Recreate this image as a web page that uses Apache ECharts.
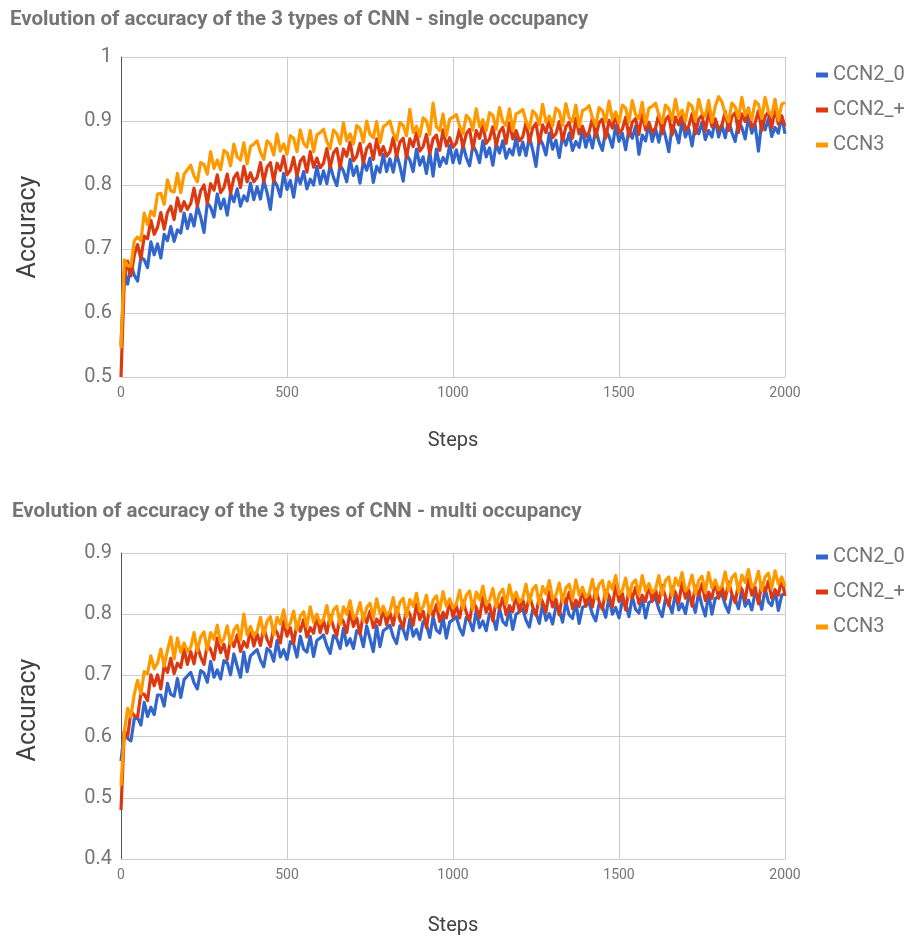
<!DOCTYPE html>
<html><head><meta charset="utf-8">
<script src="https://cdn.jsdelivr.net/npm/echarts@6/dist/echarts.min.js"></script>
<style>html,body{margin:0;padding:0;background:#fff}#c{width:911px;height:940px}</style>
</head><body><div id="c"></div>
<script>
const steps=[0,10,20,30,40,50,60,70,80,90,100,110,120,130,140,150,160,170,180,190,200,210,220,230,240,250,260,270,280,290,300,310,320,330,340,350,360,370,380,390,400,410,420,430,440,450,460,470,480,490,500,510,520,530,540,550,560,570,580,590,600,610,620,630,640,650,660,670,680,690,700,710,720,730,740,750,760,770,780,790,800,810,820,830,840,850,860,870,880,890,900,910,920,930,940,950,960,970,980,990,1000,1010,1020,1030,1040,1050,1060,1070,1080,1090,1100,1110,1120,1130,1140,1150,1160,1170,1180,1190,1200,1210,1220,1230,1240,1250,1260,1270,1280,1290,1300,1310,1320,1330,1340,1350,1360,1370,1380,1390,1400,1410,1420,1430,1440,1450,1460,1470,1480,1490,1500,1510,1520,1530,1540,1550,1560,1570,1580,1590,1600,1610,1620,1630,1640,1650,1660,1670,1680,1690,1700,1710,1720,1730,1740,1750,1760,1770,1780,1790,1800,1810,1820,1830,1840,1850,1860,1870,1880,1890,1900,1910,1920,1930,1940,1950,1960,1970,1980,1990,2000];
const xTicks=[0,500,1000,1500,2000];
const seriesNames=['CCN2_0','CCN2_+','CCN3'];
const titleSingle='Evolution of accuracy of the 3 types of CNN - single occupancy';
const titleMulti='Evolution of accuracy of the 3 types of CNN - multi occupancy';

// single occupancy
const singleCCN2_0=[.550,
.664,.645,.676,.659,.650,.687,.683,.671,.711,.691,
.708,.686,.723,.713,.735,.712,.730,.725,.756,.732,
.754,.736,.767,.750,.726,.772,.765,.750,.786,.763,
.778,.753,.787,.774,.794,.767,.783,.775,.803,.777,
.797,.778,.807,.788,.762,.808,.799,.782,.818,.793,
.807,.781,.816,.802,.821,.794,.809,.800,.829,.802,
.822,.802,.831,.812,.799,.831,.822,.805,.840,.815,
.829,.803,.837,.823,.842,.804,.829,.820,.848,.821,
.841,.820,.849,.830,.806,.848,.839,.821,.856,.831,
.844,.818,.852,.814,.856,.829,.843,.834,.862,.835,
.855,.834,.863,.843,.830,.862,.852,.835,.869,.844,
.858,.831,.865,.850,.869,.842,.856,.847,.874,.847,
.867,.846,.875,.855,.829,.874,.864,.847,.881,.856,
.870,.843,.877,.862,.881,.854,.868,.859,.886,.859,
.879,.858,.887,.867,.854,.886,.876,.859,.893,.868,
.881,.855,.888,.873,.892,.848,.878,.869,.896,.868,
.888,.867,.895,.876,.852,.893,.884,.866,.900,.875,
.888,.861,.895,.880,.898,.871,.885,.875,.903,.875,
.894,.874,.902,.882,.868,.900,.890,.872,.906,.881,
.894,.853,.900,.886,.904,.876,.890,.881,.908,.880];
const singleCCN2_plus=[.500,
.653,.681,.658,.690,.707,.684,.720,.716,.745,.723,
.734,.757,.731,.757,.767,.746,.780,.759,.774,.762,
.771,.795,.767,.791,.800,.771,.802,.792,.816,.788,
.796,.817,.787,.811,.819,.796,.829,.805,.819,.805,
.812,.835,.805,.828,.835,.805,.834,.823,.845,.816,
.823,.843,.814,.837,.844,.820,.852,.828,.842,.827,
.834,.857,.827,.850,.857,.827,.856,.845,.867,.838,
.845,.865,.834,.857,.864,.840,.872,.847,.860,.845,
.852,.874,.844,.867,.873,.843,.872,.860,.882,.853,
.860,.879,.849,.872,.878,.854,.886,.861,.874,.859,
.866,.888,.858,.880,.887,.856,.885,.873,.895,.865,
.872,.891,.861,.883,.890,.865,.897,.872,.885,.869,
.875,.898,.867,.889,.896,.865,.894,.882,.903,.874,
.880,.899,.869,.891,.898,.873,.904,.880,.892,.876,
.883,.905,.875,.897,.903,.873,.901,.889,.911,.881,
.887,.906,.876,.898,.904,.879,.911,.886,.898,.882,
.889,.911,.880,.902,.908,.878,.906,.894,.915,.886,
.892,.911,.880,.903,.909,.884,.915,.891,.903,.887,
.893,.915,.885,.907,.913,.882,.911,.899,.920,.890,
.897,.916,.885,.907,.914,.889,.920,.895,.908,.892];
const singleCCN3=[.545,
.683,.674,.673,.713,.719,.713,.756,.738,.759,.752,
.786,.787,.770,.808,.791,.789,.818,.788,.817,.824,
.831,.814,.805,.835,.832,.817,.852,.826,.839,.824,
.854,.850,.830,.864,.844,.839,.866,.833,.860,.864,
.869,.851,.840,.869,.864,.847,.880,.853,.864,.848,
.877,.873,.852,.886,.865,.859,.885,.852,.878,.882,
.887,.868,.857,.886,.880,.864,.897,.869,.880,.864,
.893,.888,.867,.900,.879,.874,.899,.866,.891,.895,
.900,.881,.870,.898,.893,.877,.918,.882,.892,.876,
.905,.900,.879,.928,.891,.885,.911,.877,.903,.906,
.910,.892,.880,.909,.903,.886,.919,.891,.902,.885,
.913,.909,.887,.921,.899,.893,.919,.885,.911,.914,
.918,.900,.888,.916,.910,.894,.926,.898,.908,.892,
.920,.915,.893,.927,.905,.899,.925,.891,.916,.919,
.924,.905,.893,.921,.916,.899,.931,.903,.914,.897,
.925,.920,.898,.932,.910,.904,.929,.895,.920,.923,
.928,.909,.897,.925,.919,.902,.934,.907,.917,.900,
.928,.923,.901,.934,.913,.907,.932,.898,.923,.938,
.930,.911,.899,.928,.922,.905,.937,.909,.919,.902,
.931,.926,.904,.937,.915,.909,.934,.901,.926,.929];

// multi occupancy
const multiCCN2_0=[.560,
.608,.597,.593,.629,.631,.619,.656,.633,.648,.636,
.668,.668,.650,.687,.669,.666,.695,.664,.693,.699,
.705,.688,.678,.708,.704,.689,.723,.697,.709,.694,
.724,.721,.701,.735,.715,.697,.738,.706,.732,.737,
.742,.725,.714,.744,.739,.723,.757,.730,.742,.726,
.755,.751,.730,.764,.743,.738,.764,.731,.757,.761,
.766,.748,.736,.765,.760,.744,.777,.749,.760,.744,
.773,.769,.747,.781,.760,.739,.781,.747,.773,.777,
.782,.763,.752,.781,.775,.759,.792,.764,.775,.759,
.788,.783,.762,.796,.774,.769,.795,.761,.787,.791,
.796,.777,.766,.795,.789,.773,.806,.778,.789,.773,
.801,.797,.775,.809,.788,.782,.808,.775,.800,.804,
.809,.790,.779,.807,.802,.785,.818,.790,.801,.784,
.813,.808,.787,.820,.799,.793,.819,.785,.811,.814,
.819,.800,.789,.817,.812,.795,.828,.800,.811,.794,
.822,.818,.796,.829,.808,.802,.827,.794,.819,.822,
.827,.808,.796,.825,.819,.802,.835,.807,.817,.801,
.829,.824,.803,.836,.814,.797,.834,.800,.826,.829,
.833,.815,.803,.831,.825,.809,.841,.813,.823,.807,
.835,.830,.808,.842,.820,.814,.839,.806,.831,.834];
const multiCCN2_plus=[.480,
.609,.600,.641,.634,.632,.671,.669,.659,.701,.683,
.701,.678,.716,.705,.728,.703,.720,.713,.743,.718,
.739,.719,.749,.730,.718,.751,.742,.726,.761,.737,
.751,.726,.760,.747,.766,.739,.755,.746,.775,.748,
.768,.749,.778,.759,.747,.779,.770,.753,.789,.764,
.778,.752,.786,.772,.791,.763,.778,.769,.797,.770,
.790,.769,.798,.779,.765,.797,.788,.770,.805,.780,
.794,.767,.801,.786,.805,.778,.792,.783,.810,.783,
.803,.782,.811,.791,.778,.809,.800,.782,.817,.791,
.805,.778,.812,.797,.816,.788,.803,.794,.822,.795,
.814,.794,.822,.803,.789,.821,.811,.794,.828,.803,
.816,.789,.823,.808,.827,.799,.814,.804,.832,.804,
.824,.803,.831,.812,.798,.830,.820,.803,.837,.812,
.825,.799,.832,.818,.836,.809,.823,.813,.841,.813,
.833,.812,.841,.821,.808,.839,.830,.812,.847,.821,
.834,.807,.841,.826,.844,.817,.831,.821,.848,.821,
.840,.819,.847,.828,.814,.845,.835,.818,.852,.826,
.840,.813,.846,.831,.850,.822,.836,.826,.854,.826,
.845,.824,.853,.833,.819,.850,.840,.823,.857,.831,
.844,.817,.851,.836,.854,.826,.840,.831,.858,.830];
const multiCCN3=[.520,
.608,.646,.632,.670,.692,.670,.706,.703,.732,.711,
.720,.743,.715,.741,.763,.727,.761,.738,.753,.739,
.746,.770,.740,.763,.771,.741,.770,.759,.782,.753,
.760,.781,.751,.774,.782,.758,.800,.766,.780,.765,
.772,.795,.766,.789,.796,.766,.795,.784,.807,.778,
.785,.805,.774,.797,.804,.780,.812,.787,.800,.785,
.792,.814,.784,.807,.813,.783,.812,.800,.822,.793,
.800,.819,.789,.811,.818,.794,.825,.801,.813,.798,
.805,.827,.797,.819,.826,.796,.824,.813,.834,.805,
.812,.831,.801,.823,.830,.806,.837,.813,.825,.810,
.817,.839,.809,.831,.838,.807,.836,.824,.846,.816,
.823,.842,.812,.834,.841,.816,.848,.823,.836,.820,
.826,.849,.818,.841,.847,.816,.845,.833,.855,.825,
.831,.851,.820,.843,.849,.824,.856,.831,.844,.828,
.834,.857,.826,.849,.855,.824,.853,.841,.863,.833,
.839,.859,.828,.850,.856,.832,.863,.838,.850,.835,
.841,.863,.832,.855,.861,.830,.859,.847,.868,.838,
.845,.864,.833,.855,.862,.837,.868,.843,.856,.840,
.846,.869,.838,.860,.866,.836,.864,.852,.873,.844,
.850,.870,.839,.861,.867,.842,.871,.849,.861,.845];

const colors=['#3366cc','#dc3912','#ff9900'];
const FONT='Roboto, "Noto Sans", sans-serif';
function pairs(arr){return steps.map((s,i)=>[s,arr[i]]);}
function xAxis(g,gap){return {gridIndex:g,type:'value',min:xTicks[0],max:xTicks[xTicks.length-1],interval:500,
  axisLine:{show:true,onZero:false,lineStyle:{color:'#cccccc',width:1}},axisTick:{show:false},
  axisLabel:{color:'#757575',fontSize:14,fontFamily:FONT,margin:9,formatter:v=>String(v)},
  splitLine:{show:true,lineStyle:{color:'#cccccc',width:1}},
  name:'Steps',nameLocation:'middle',nameGap:gap,
  nameTextStyle:{color:'#424242',fontSize:20,fontFamily:FONT}};}
function yAxis(g,min,max,pad){return {gridIndex:g,type:'value',min:min,max:max,interval:0.1,
  axisLine:{show:true,lineStyle:{color:'#555555',width:1}},axisTick:{show:false},
  axisLabel:{color:'#757575',fontSize:20,fontFamily:FONT,margin:9,
    formatter:v=>String(Math.round(v*10)/10)},
  splitLine:{show:true,lineStyle:{color:'#cccccc',width:1}},
  name:'Accuracy',nameLocation:'middle',nameGap:80,nameRotate:90,
  nameTextStyle:{color:'#424242',fontSize:25,fontFamily:FONT,padding:[0,pad,0,0]}};}
function legend(top){return {orient:'vertical',left:811,top:top,icon:'rect',itemWidth:12,itemHeight:5,itemGap:15,
  data:seriesNames,textStyle:{color:'#757575',fontSize:20,fontFamily:FONT}};}
function mk(name,arr,g,ci){return {name:name,type:'line',xAxisIndex:g,yAxisIndex:g,data:pairs(arr),
  showSymbol:false,symbol:'none',lineStyle:{width:3.2,color:colors[ci],join:'round'},itemStyle:{color:colors[ci]},
  silent:true,animation:false};}
const chart=echarts.init(document.getElementById('c'));
chart.setOption({
  animation:false,backgroundColor:'#ffffff',
  title:[
    {text:titleSingle,left:10,top:9,padding:0,textStyle:{color:'#757575',fontSize:20.5,fontWeight:'bold',fontFamily:FONT}},
    {text:titleMulti,left:12,top:501,padding:0,textStyle:{color:'#757575',fontSize:20.5,fontWeight:'bold',fontFamily:FONT}}
  ],
  legend:[legend(60),legend(542)],
  grid:[
    {left:121,width:664,top:57,height:320},
    {left:121,width:664,top:553,height:306}
  ],
  xAxis:[xAxis(0,54),xAxis(1,57)],
  yAxis:[yAxis(0,0.5,1,20),yAxis(1,0.4,0.9,8)],
  series:[
    mk(seriesNames[0],singleCCN2_0,0,0),
    mk(seriesNames[1],singleCCN2_plus,0,1),
    mk(seriesNames[2],singleCCN3,0,2),
    mk(seriesNames[0],multiCCN2_0,1,0),
    mk(seriesNames[1],multiCCN2_plus,1,1),
    mk(seriesNames[2],multiCCN3,1,2)
  ]
});
</script></body></html>
